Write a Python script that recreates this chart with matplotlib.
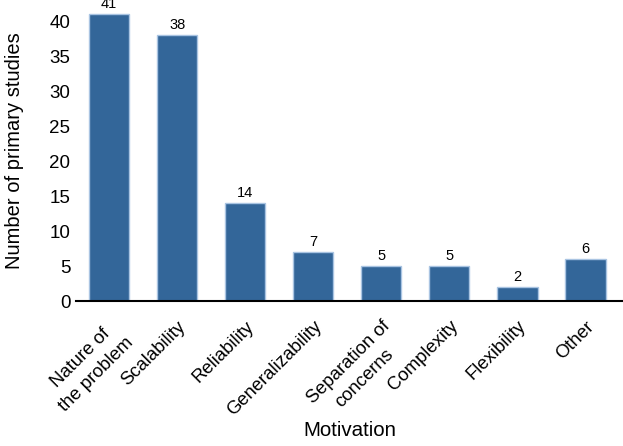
import numpy as np
import matplotlib.pyplot as plt

plt.rcParams['font.family'] = ['Liberation Sans', 'DejaVu Sans']

# data
categories = ["Nature of\nthe problem", "Scalability", "Reliability", "Generalizability",
              "Separation of\nconcerns", "Complexity", "Flexibility", "Other"]
counts = [41, 38, 14, 7, 5, 5, 2, 6]

fig = plt.figure(figsize=(6.23, 4.46), dpi=100)
ax = fig.add_axes([0.122, 0.325, 0.878, 0.675])

x = np.arange(len(categories))
bars = ax.bar(x, counts, width=0.59, color='#336699', edgecolor='#a9c4e2', linewidth=1)
for b, v in zip(bars, counts):
    ax.text(b.get_x() + b.get_width() / 2, v + 0.5, str(v), ha='center', va='bottom', fontsize=10.5)

ax.set_xlim(-0.485, 7.55)
ax.set_ylim(0, 43)
ax.set_yticks(range(0, 45, 5))
ax.set_xticks(x)
ax.set_xticklabels(categories, rotation=45, ha='right', rotation_mode='anchor',
                   multialignment='center', linespacing=1.45, fontsize=13.3)
ax.tick_params(axis='y', length=0, labelsize=13.5, pad=4)
ax.tick_params(axis='x', length=0, pad=12)
for s in ['top', 'right', 'left']:
    ax.spines[s].set_visible(False)
ax.spines['bottom'].set_linewidth(1.5)
ax.set_ylabel("Number of primary studies", fontsize=14.5, va='center')
ax.yaxis.set_label_coords(-0.113, 0.5)
ax.set_xlabel("Motivation", fontsize=14.8, va='center')
ax.xaxis.set_label_coords(0.5, -0.4286)

plt.savefig("out.png")
